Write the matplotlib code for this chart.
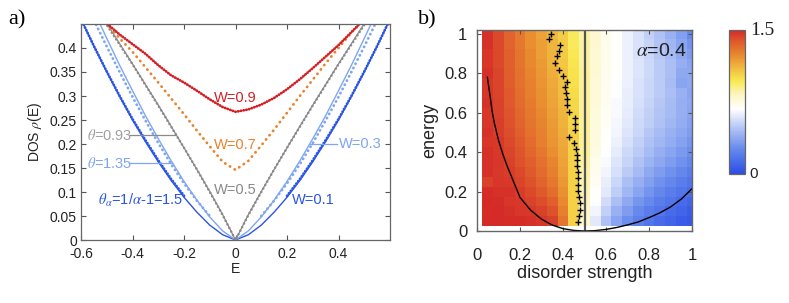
import numpy as np
import matplotlib
matplotlib.use("Agg")
from matplotlib import pyplot as plt
from matplotlib.colors import LinearSegmentedColormap

plt.rcParams['font.family'] = ['Liberation Sans', 'DejaVu Sans']
plt.rcParams['mathtext.fontset'] = 'stix'
plt.rcParams['axes.unicode_minus'] = False

# ---- panel a: DOS vs energy ----
energy = [-0.6, -0.55, -0.5, -0.45, -0.4, -0.35, -0.3, -0.25, -0.2, -0.15, -0.1, -0.05, 0.0,
          0.05, 0.1, 0.15, 0.2, 0.25, 0.3, 0.35, 0.4, 0.45, 0.5, 0.55, 0.6]
nan = np.nan
fit_15 = [0.46, 0.404, 0.35, 0.299, 0.25, 0.205, 0.163, 0.124, 0.089, 0.058, 0.031, 0.011, 0.0,
          0.011, 0.031, 0.058, 0.089, 0.124, 0.163, 0.205, 0.25, 0.299, 0.35, 0.404, 0.46]
fit_135 = [0.537, 0.477, 0.42, 0.364, 0.311, 0.259, 0.211, 0.165, 0.122, 0.083, 0.048, 0.019, 0.0,
           0.019, 0.048, 0.083, 0.122, 0.165, 0.211, 0.259, 0.311, 0.364, 0.42, 0.477, 0.537]
fit_093 = [0.535, 0.493, 0.451, 0.409, 0.367, 0.324, 0.281, 0.237, 0.192, 0.147, 0.101, 0.053, 0.0,
           0.053, 0.101, 0.147, 0.192, 0.237, 0.281, 0.324, 0.367, 0.409, 0.451, 0.493, 0.535]
dos_w01 = [0.46, 0.404, 0.351, 0.3, 0.252, 0.208, 0.166, 0.127, 0.092, nan, nan, nan, nan,
           nan, nan, nan, 0.092, 0.127, 0.166, 0.208, 0.252, 0.3, 0.351, 0.404, 0.46]
dos_w03 = [0.515, 0.458, 0.403, 0.35, 0.298, 0.249, 0.202, 0.158, 0.118, 0.082, 0.05, nan, nan,
           nan, 0.05, 0.082, 0.118, 0.158, 0.202, 0.249, 0.298, 0.35, 0.403, 0.458, 0.515]
dos_w05 = [0.53, 0.49, 0.448, 0.407, 0.366, 0.323, 0.28, 0.236, 0.192, 0.147, 0.1, 0.052, 0.0,
           0.052, 0.1, 0.147, 0.192, 0.236, 0.28, 0.323, 0.366, 0.407, 0.448, 0.49, 0.53]
dos_w07 = [0.51, 0.48, 0.45, 0.42, 0.392, 0.36, 0.328, 0.295, 0.262, 0.228, 0.195, 0.163, 0.146,
           0.165, 0.197, 0.23, 0.265, 0.3, 0.334, 0.368, 0.4, 0.432, 0.46, 0.49, 0.52]
dos_w09 = [0.5, 0.475, 0.451, 0.428, 0.408, 0.388, 0.364, 0.343, 0.328, 0.311, 0.293, 0.277, 0.267,
           0.272, 0.282, 0.296, 0.314, 0.335, 0.358, 0.382, 0.406, 0.433, 0.46, 0.49, 0.52]

c_red = '#d41f26'
c_orange = '#e8832e'
c_gray = '#8a8a8a'
c_lblue = '#7fa6f2'
c_dblue = '#2a55e5'

# ---- panel b: exponent map ----
disorder = [0.05, 0.1, 0.15, 0.2, 0.25, 0.3, 0.35, 0.4, 0.45, 0.5,
            0.55, 0.6, 0.65, 0.7, 0.75, 0.8, 0.85, 0.9, 0.95, 1.0]
energy_b = [0.05, 0.1, 0.15, 0.2, 0.25, 0.3, 0.35, 0.4, 0.45, 0.5,
            0.55, 0.6, 0.65, 0.7, 0.75, 0.8, 0.85, 0.9, 0.95, 1.0]
dos_map = [
    [1.50, 1.50, 1.49, 1.49, 1.48, 1.47, 1.44, 1.30, 1.04, 0.80, 0.60, 0.47, 0.36, 0.28, 0.22, 0.17, 0.13, 0.10, 0.07, 0.05],
    [1.49, 1.50, 1.48, 1.47, 1.46, 1.44, 1.40, 1.27, 1.04, 0.82, 0.64, 0.52, 0.41, 0.33, 0.26, 0.21, 0.17, 0.13, 0.10, 0.07],
    [1.50, 1.49, 1.47, 1.46, 1.44, 1.41, 1.36, 1.24, 1.04, 0.83, 0.67, 0.56, 0.46, 0.38, 0.31, 0.26, 0.21, 0.17, 0.13, 0.10],
    [1.49, 1.48, 1.48, 1.45, 1.42, 1.38, 1.32, 1.22, 1.04, 0.84, 0.69, 0.60, 0.51, 0.43, 0.36, 0.30, 0.25, 0.21, 0.17, 0.14],
    [1.44, 1.47, 1.46, 1.43, 1.40, 1.35, 1.29, 1.20, 1.04, 0.85, 0.71, 0.62, 0.54, 0.46, 0.40, 0.34, 0.29, 0.25, 0.21, 0.17],
    [1.48, 1.46, 1.45, 1.42, 1.38, 1.33, 1.27, 1.18, 1.04, 0.86, 0.72, 0.64, 0.57, 0.50, 0.44, 0.38, 0.33, 0.29, 0.25, 0.21],
    [1.48, 1.47, 1.44, 1.40, 1.36, 1.31, 1.25, 1.17, 1.04, 0.87, 0.73, 0.66, 0.59, 0.53, 0.47, 0.42, 0.37, 0.33, 0.29, 0.25],
    [1.48, 1.46, 1.43, 1.39, 1.34, 1.29, 1.23, 1.16, 1.04, 0.88, 0.74, 0.67, 0.61, 0.55, 0.50, 0.45, 0.40, 0.36, 0.32, 0.28],
    [1.47, 1.46, 1.42, 1.38, 1.33, 1.27, 1.21, 1.15, 1.04, 0.88, 0.75, 0.68, 0.63, 0.57, 0.52, 0.47, 0.43, 0.39, 0.35, 0.31],
    [1.48, 1.45, 1.41, 1.36, 1.31, 1.26, 1.20, 1.14, 1.04, 0.88, 0.75, 0.69, 0.64, 0.59, 0.54, 0.49, 0.45, 0.41, 0.37, 0.33],
    [1.47, 1.45, 1.40, 1.35, 1.30, 1.25, 1.19, 1.13, 1.03, 0.88, 0.76, 0.70, 0.65, 0.60, 0.55, 0.51, 0.47, 0.43, 0.39, 0.35],
    [1.47, 1.44, 1.39, 1.34, 1.29, 1.24, 1.18, 1.12, 1.03, 0.88, 0.76, 0.70, 0.66, 0.61, 0.56, 0.52, 0.48, 0.44, 0.40, 0.36],
    [1.48, 1.44, 1.38, 1.33, 1.28, 1.23, 1.17, 1.11, 1.02, 0.88, 0.77, 0.71, 0.66, 0.62, 0.57, 0.53, 0.49, 0.45, 0.40, 0.37],
    [1.47, 1.43, 1.38, 1.32, 1.27, 1.22, 1.16, 1.10, 1.01, 0.88, 0.77, 0.71, 0.67, 0.62, 0.58, 0.54, 0.50, 0.46, 0.41, 0.36],
    [1.47, 1.43, 1.37, 1.31, 1.26, 1.21, 1.15, 1.09, 1.00, 0.88, 0.77, 0.72, 0.67, 0.63, 0.58, 0.54, 0.50, 0.45, 0.36, 0.38],
    [1.48, 1.43, 1.37, 1.31, 1.25, 1.20, 1.14, 1.08, 0.99, 0.88, 0.78, 0.72, 0.68, 0.63, 0.59, 0.55, 0.50, 0.46, 0.38, 0.37],
    [1.47, 1.42, 1.36, 1.30, 1.24, 1.19, 1.13, 1.07, 0.98, 0.87, 0.78, 0.73, 0.68, 0.63, 0.59, 0.55, 0.50, 0.46, 0.40, 0.36],
    [1.47, 1.42, 1.36, 1.30, 1.24, 1.18, 1.12, 1.06, 0.97, 0.87, 0.78, 0.73, 0.68, 0.63, 0.58, 0.54, 0.49, 0.44, 0.38, 0.33],
    [1.48, 1.42, 1.35, 1.29, 1.23, 1.18, 1.12, 1.06, 0.96, 0.87, 0.79, 0.73, 0.68, 0.63, 0.58, 0.53, 0.48, 0.43, 0.36, 0.30],
    [1.48, 1.42, 1.35, 1.29, 1.23, 1.17, 1.11, 1.05, 0.96, 0.86, 0.79, 0.73, 0.68, 0.63, 0.58, 0.52, 0.47, 0.41, 0.34, 0.26],
]

# black theory curve
curve_x = [0.048, 0.06, 0.07, 0.08, 0.1, 0.12, 0.14, 0.17, 0.2, 0.25, 0.3, 0.35, 0.4, 0.45, 0.5,
           0.55, 0.6, 0.65, 0.7, 0.75, 0.8, 0.85, 0.9, 0.95, 1.0]
curve_y = [0.78, 0.69, 0.61, 0.55, 0.46, 0.39, 0.33, 0.25, 0.17, 0.105, 0.06, 0.03, 0.012, 0.003, 0.0,
           0.002, 0.008, 0.018, 0.031, 0.046, 0.068, 0.092, 0.122, 0.162, 0.215]

# crosses (mobility edge)
cross_x = [0.343, 0.335, 0.386, 0.379, 0.373, 0.363, 0.383, 0.401, 0.417, 0.41, 0.414, 0.417, 0.417,
           0.427, 0.456, 0.456, 0.455, 0.428, 0.45, 0.459, 0.464, 0.464, 0.467, 0.471, 0.469, 0.469,
           0.469, 0.474, 0.479, 0.478, 0.476, 0.469]
cross_y = [1.0, 0.972, 0.942, 0.913, 0.886, 0.851, 0.817, 0.787, 0.758, 0.729, 0.698, 0.67, 0.64,
           0.606, 0.572, 0.542, 0.511, 0.479, 0.446, 0.416, 0.388, 0.358, 0.329, 0.297, 0.267, 0.234,
           0.205, 0.171, 0.14, 0.108, 0.077, 0.048]

fig = plt.figure(figsize=(7.89, 3.03), dpi=100)

# ================= panel a =================
ax1 = fig.add_axes([0.1027, 0.2079, 0.3916, 0.7129])
ax1.plot(energy, fit_15, color=c_dblue, lw=1.0)
ax1.plot(energy, dos_w01, color=c_dblue, lw=2.0, ls=(0, (0.1, 1.0)), dash_capstyle='round')
ax1.plot(energy, fit_135, color=c_lblue, lw=1.0)
ax1.plot(energy, dos_w03, color=c_lblue, lw=2.0, ls=(0, (0.1, 1.6)), dash_capstyle='round')
ax1.plot(energy, fit_093, color=c_gray, lw=0.9)
ax1.plot(energy, dos_w05, color=c_gray, lw=1.8, ls=(0, (0.1, 1.5)), dash_capstyle='round')
ax1.plot(energy, dos_w07, color=c_orange, lw=2.0, ls=(0, (0.1, 1.9)), dash_capstyle='round')
ax1.plot(energy, dos_w09, color=c_red, lw=2.0, ls=(0, (0.1, 0.9)), dash_capstyle='round')

fs = 10
fa = 10.5
ax1.text(0.0, 0.295, 'W=0.9', color=c_red, fontsize=fa, ha='center', va='center')
ax1.text(0.0, 0.198, 'W=0.7', color=c_orange, fontsize=fa, ha='center', va='center')
ax1.text(0.0, 0.104, 'W=0.5', color=c_gray, fontsize=fa, ha='center', va='center')
ax1.plot([0.29, 0.394], [0.2, 0.2], color=c_lblue, lw=0.9)
ax1.text(0.4, 0.2, 'W=0.3', color=c_lblue, fontsize=fa, ha='left', va='center')
ax1.text(0.219, 0.083, 'W=0.1', color=c_dblue, fontsize=fa, ha='left', va='center')
ax1.plot([-0.412, -0.234], [0.218, 0.218], color=c_gray, lw=0.9)
ax1.text(-0.578, 0.218, r'$\theta$=0.93', color='#a0a0a0', fontsize=fa, ha='left', va='center')
ax1.plot([-0.415, -0.247], [0.16, 0.16], color=c_lblue, lw=0.9)
ax1.text(-0.578, 0.16, r'$\theta$=1.35', color=c_lblue, fontsize=fa, ha='left', va='center')
ax1.text(-0.535, 0.083, r'$\theta_\alpha$=1/$\alpha$-1=1.5', color=c_dblue, fontsize=fa,
         ha='left', va='center')

ax1.set_xlim(-0.6, 0.6)
ax1.set_ylim(0, 0.45)
ax1.set_xticks([-0.6, -0.4, -0.2, 0, 0.2, 0.4])
ax1.set_xticklabels(['-0.6', '-0.4', '-0.2', '0', '0.2', '0.4'])
ax1.set_yticks([0, 0.05, 0.1, 0.15, 0.2, 0.25, 0.3, 0.35, 0.4])
ax1.set_yticklabels(['0', '0.05', '0.1', '0.15', '0.2', '0.25', '0.3', '0.35', '0.4'])
ax1.tick_params(direction='in', length=3.5, width=0.8, top=True, right=True,
                labelsize=fs, colors='#555555', labelcolor='#222222')
ax1.tick_params(axis='x', pad=5)
ax1.tick_params(axis='y', pad=3)
for s in ax1.spines.values():
    s.set_color('#666666')
    s.set_linewidth(0.9)
ax1.set_xlabel('E', fontsize=fs, color='#222222', labelpad=1)
ax1.set_ylabel(r'DOS $\rho$(E)', fontsize=fs, color='#222222', labelpad=4)

# ================= panel b =================
cmap = LinearSegmentedColormap.from_list('bwyr', [
    (0.0, '#2b4de6'), (0.18, '#6a8ced'), (0.32, '#b3c5f5'), (0.45, '#ffffff'),
    (0.55, '#fdf6c4'), (0.65, '#f8e850'), (0.72, '#f2c442'), (0.83, '#e8882f'),
    (0.92, '#df5a2c'), (1.0, '#d42a28')])

ax2 = fig.add_axes([0.6046, 0.2376, 0.2725, 0.6634])
mesh = ax2.pcolormesh(disorder, energy_b, dos_map, shading='nearest', cmap=cmap, vmin=0, vmax=1.5)
ax2.axvline(0.5, color='#555555', lw=1.6)
ax2.plot(curve_x, curve_y, color='black', lw=1.0)
ax2.plot(cross_x, cross_y, ls='none', marker='+', ms=4.5, mew=1.0, color='black')
ax2.text(0.975, 0.91, r'$\alpha$=0.4', fontsize=14, ha='right', va='center', color='#222222')

ax2.set_xlim(0, 1.0)
ax2.set_ylim(0, 1.02)
ax2.set_xticks([0, 0.2, 0.4, 0.6, 0.8, 1.0])
ax2.set_xticklabels(['0', '0.2', '0.4', '0.6', '0.8', '1'])
ax2.set_yticks([0, 0.2, 0.4, 0.6, 0.8, 1.0])
ax2.set_yticklabels(['0', '0.2', '0.4', '0.6', '0.8', '1'])
ax2.tick_params(direction='in', length=3, width=0.8, top=True, right=True,
                labelsize=12, colors='#555555', labelcolor='#222222')
ax2.tick_params(axis='x', pad=12)
ax2.tick_params(axis='y', pad=7)
for s in ax2.spines.values():
    s.set_color('#666666')
    s.set_linewidth(1.0)
ax2.set_xlabel('disorder strength', fontsize=13, color='#222222', labelpad=2)
ax2.set_ylabel('energy', fontsize=13, color='#222222', labelpad=4)

cax = fig.add_axes([0.924, 0.4257, 0.0203, 0.475])
cb = fig.colorbar(mesh, cax=cax)
cb.set_ticks([])
cb.outline.set_edgecolor('#666666')
cb.outline.set_linewidth(0.9)
cax.text(1.3, 1.0, '1.5', transform=cax.transAxes, fontsize=14, family='Liberation Serif',
         ha='left', va='center', color='#222222')
cax.text(1.3, 0.0, '0', transform=cax.transAxes, fontsize=11, ha='left', va='center',
         color='#222222')

fig.text(0.010, 0.965, 'a)', fontsize=16, family='Liberation Serif', va='top')
fig.text(0.530, 0.965, 'b)', fontsize=16, family='Liberation Serif', va='top')

fig.savefig('out.png', dpi=100)
